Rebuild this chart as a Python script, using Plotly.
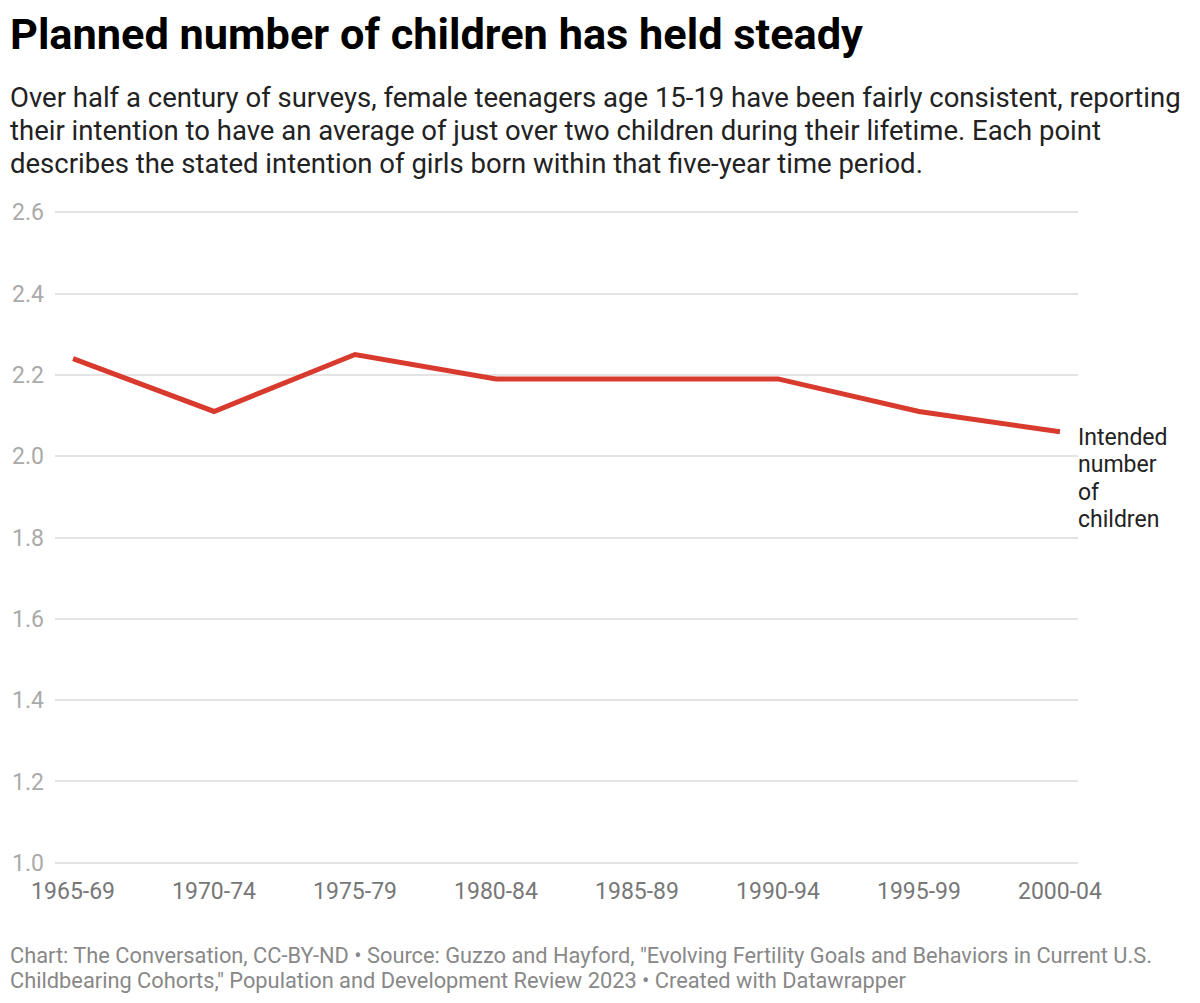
import plotly.graph_objects as go

# ---- data ----
periods = ["1965-69", "1970-74", "1975-79", "1980-84", "1985-89", "1990-94", "1995-99", "2000-04"]
intended_children = [2.24, 2.11, 2.25, 2.19, 2.19, 2.19, 2.11, 2.06]
y_ticks = [1.0, 1.2, 1.4, 1.6, 1.8, 2.0, 2.2, 2.4, 2.6]
y_tick_labels = ["1.0", "1.2", "1.4", "1.6", "1.8", "2.0", "2.2", "2.4", "2.6"]
series_label_lines = ["Intended", "number", "of", "children"]

title_text = "Planned number of children has held steady"
subtitle_lines = [
    "Over half a century of surveys, female teenagers age 15-19 have been fairly consistent, reporting",
    "their intention to have an average of just over two children during their lifetime. Each point",
    "describes the stated intention of girls born within that five-year time period.",
]
footer_lines = [
    "Chart: The Conversation, CC-BY-ND • Source: Guzzo and Hayford, \"Evolving Fertility Goals and Behaviors in Current U.S.",
    "Childbearing Cohorts,\" Population and Development Review 2023 • Created with Datawrapper",
]

W, H = 1200, 1003
L, R, T, B = 55, 122, 211, 139
PW, PH = W - L - R, H - T - B


def xp(px):
    return (px - L) / PW


def yp(py):
    return (H - B - py) / PH


FONT = "Roboto"
x_idx = list(range(len(periods)))

fig = go.Figure()
fig.add_trace(go.Scatter(
    x=x_idx, y=intended_children, mode="lines",
    line=dict(color="#d93a2e", width=5),
    hoverinfo="skip", showlegend=False,
))

annotations = [
    dict(text="<b>" + title_text + "</b>", xref="paper", yref="paper", x=xp(8), y=yp(34),
         xanchor="left", yanchor="middle", showarrow=False,
         font=dict(family=FONT, size=43.3, color="#000")),
]
for i, line in enumerate(subtitle_lines):
    annotations.append(dict(text=line, xref="paper", yref="paper", x=xp(8), y=yp(98 + 32.5 * i),
                            xanchor="left", yanchor="middle", showarrow=False, align="left",
                            font=dict(family=FONT, size=27.5, color="#222")))
for i, line in enumerate(footer_lines):
    annotations.append(dict(text=line, xref="paper", yref="paper", x=xp(8), y=yp(955 + 25 * i),
                            xanchor="left", yanchor="middle", showarrow=False, align="left",
                            font=dict(family=FONT, size=21.8, color="#888")))
for i, line in enumerate(series_label_lines):
    annotations.append(dict(text=line, xref="x", yref="y", x=x_idx[-1], y=intended_children[-1],
                            xanchor="left", yanchor="middle", xshift=16, yshift=-5.5 - 27.5 * i,
                            showarrow=False, align="left",
                            font=dict(family=FONT, size=23, color="#222")))

fig.update_layout(
    width=W, height=H,
    margin=dict(l=L, r=R, t=T, b=B, pad=0),
    paper_bgcolor="white", plot_bgcolor="white",
    font=dict(family=FONT, color="#333"),
    xaxis=dict(
        range=[-0.128, 7.128], tickmode="array", tickvals=x_idx, ticktext=periods,
        showgrid=False, zeroline=False, showline=False, ticks="",
        tickfont=dict(family=FONT, size=23, color="#777"),
        ticklabelstandoff=11,
    ),
    yaxis=dict(
        range=[0.997, 2.603], tickmode="array", tickvals=y_ticks, ticktext=y_tick_labels,
        showgrid=True, gridcolor="#e4e4e4", gridwidth=1.5, zeroline=False, showline=False, ticks="",
        tickfont=dict(family=FONT, size=23, color="#aaa"),
        ticklabelstandoff=10,
    ),
    annotations=annotations,
)

fig.write_html("out.html", config={"displayModeBar": False},
               post_script="document.body.style.margin='0';document.body.style.padding='0';")
